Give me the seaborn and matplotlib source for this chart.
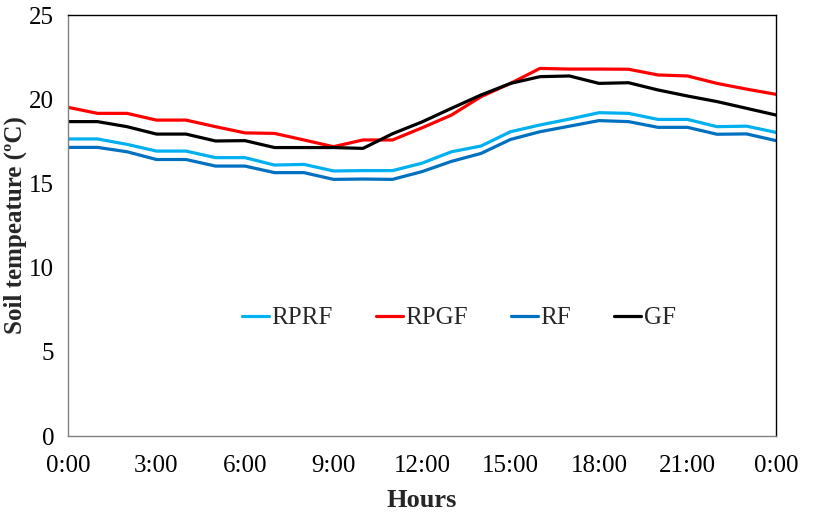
import numpy as np
import pandas as pd
import matplotlib
matplotlib.use("Agg")
import matplotlib.pyplot as plt
import seaborn as sns

hours = list(range(25))
tick_labels = ["0:00", "3:00", "6:00", "9:00", "12:00", "15:00", "18:00", "21:00", "0:00"]

rprf = [17.64, 17.64, 17.32, 16.92, 16.92, 16.53, 16.53, 16.09, 16.13, 15.74, 15.76, 15.76, 16.2,
        16.88, 17.22, 18.07, 18.47, 18.82, 19.2, 19.16, 18.8, 18.8, 18.37, 18.4, 18.03]
rpgf = [19.52, 19.16, 19.16, 18.76, 18.76, 18.37, 18.0, 17.97, 17.58, 17.18, 17.58, 17.58, 18.3,
        19.06, 20.15, 20.94, 21.83, 21.79, 21.79, 21.78, 21.44, 21.38, 20.94, 20.6, 20.29]
rf = [17.14, 17.14, 16.88, 16.42, 16.42, 16.03, 16.03, 15.64, 15.64, 15.24, 15.26, 15.24, 15.7,
      16.31, 16.78, 17.61, 18.07, 18.4, 18.73, 18.67, 18.33, 18.33, 17.92, 17.94, 17.54]
gf = [18.67, 18.67, 18.37, 17.93, 17.93, 17.52, 17.54, 17.13, 17.13, 17.13, 17.08, 17.95, 18.65,
      19.46, 20.25, 20.94, 21.34, 21.38, 20.94, 20.98, 20.55, 20.19, 19.86, 19.46, 19.06]

series_names = ["RPRF", "RPGF", "RF", "GF"]
colors = ["#00B0F0", "#FF0000", "#0070C0", "#000000"]

df = pd.concat([
    pd.DataFrame({"Hour": hours, "Temp": vals, "Series": name})
    for name, vals in zip(series_names, [rprf, rpgf, rf, gf])
])

sns.set_theme(style="white")
plt.rcParams["font.family"] = ["Liberation Serif", "DejaVu Serif"]

fig = plt.figure(figsize=(8.25, 5.18), dpi=100)
ax = fig.add_axes([0.0824, 0.1583, 0.8582, 0.8127])

sns.lineplot(data=df, x="Hour", y="Temp", hue="Series", hue_order=series_names,
             palette=colors, linewidth=2.3, ax=ax)

ax.set_xlim(0, 24)
ax.set_ylim(0, 25)
ax.set_xticks(range(0, 25, 3))
ax.set_xticklabels(tick_labels)
ax.set_yticks(range(0, 26, 5))

for side in ["left", "bottom"]:
    ax.spines[side].set_color("#808080")
    ax.spines[side].set_linewidth(1.0)
for side in ["top", "right"]:
    ax.spines[side].set_color("black")
    ax.spines[side].set_linewidth(1.0)

ax.tick_params(axis="both", which="major", direction="out", length=6, width=1,
               color="#808080", labelsize=18, labelcolor="black", pad=4)
ax.tick_params(axis="x", pad=8)

ax.set_xlabel("Hours", fontsize=19, fontweight="bold", labelpad=8)
ax.set_ylabel("Soil tempeature (ºC)", fontsize=18, fontweight="bold")
ax.yaxis.set_label_coords(-0.058, 0.5)

leg = ax.legend(loc="center", bbox_to_anchor=(0.552, 0.28), ncol=4, frameon=False,
                fontsize=18, handlelength=1.1, handletextpad=0.1, columnspacing=1.7)
for line in leg.get_lines():
    line.set_linewidth(2.3)

fig.savefig("out.png", dpi=100)
